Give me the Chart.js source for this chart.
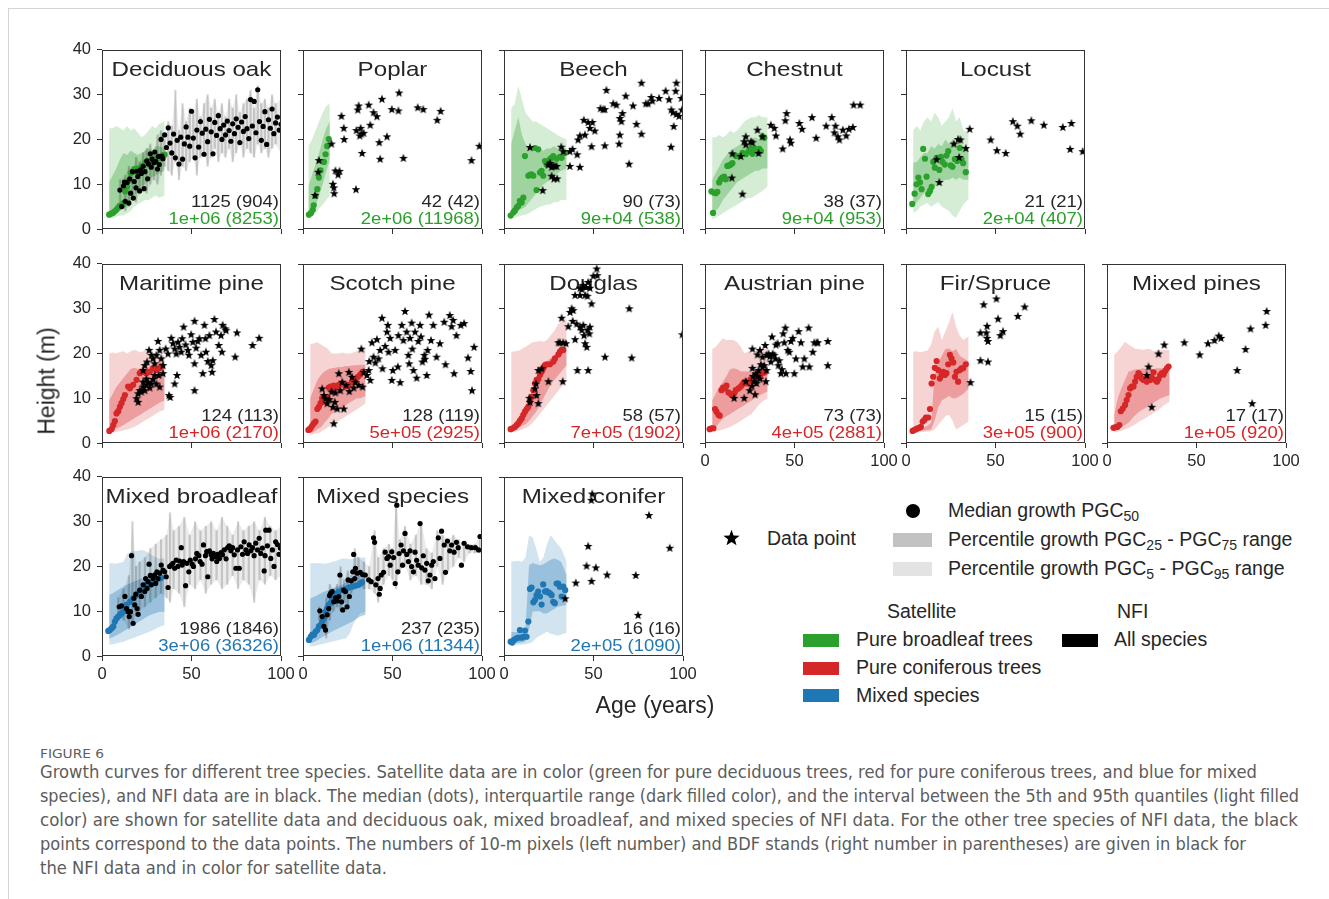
<!DOCTYPE html>
<html>
<head>
<meta charset="utf-8">
<script src="https://cdn.jsdelivr.net/npm/chart.js@4.4.1/dist/chart.umd.min.js"></script>
<style>
  body { margin:0; width:1329px; height:899px; position:relative; overflow:hidden; background:#fff;
         font-family:"Liberation Sans", Arial, sans-serif; color:#262626; }
  canvas.panel { position:absolute; }
  .frame-top { position:absolute; left:8px; top:8px; width:1321px; height:1px; background:#d4d4d4; }
  .frame-left { position:absolute; left:8px; top:8px; width:1px; height:891px; background:#d4d4d4; }
  .axis-title { position:absolute; font-size:23px; white-space:nowrap; color:#262626; }
  .lg { position:absolute; font-size:19.5px; white-space:nowrap; color:#262626; line-height:1; }
  .lg sub { font-size:14px; vertical-align:-4px; line-height:0; }
  .sw { position:absolute; }
  .cap { position:absolute; left:40px; white-space:nowrap; color:#5c5c5c; font-family:"Liberation Sans Narrow","DejaVu Sans Condensed","Noto Sans",sans-serif;
         font-size:17px; transform-origin:0 50%; line-height:1; }
  .fig { position:absolute; left:40px; top:746px; font-size:13px; color:#5c5c5c; font-family:"Liberation Sans Narrow","DejaVu Sans Condensed","Noto Sans",sans-serif;
         transform-origin:0 50%; white-space:nowrap; }
</style>
</head>
<body>
<div class="frame-top"></div>
<div class="frame-left"></div>
<div id="charts"></div>

<div class="axis-title" style="left:47px; top:381px; transform:translate(-50%,-50%) rotate(-90deg);">Height (m)</div>
<div class="axis-title" style="left:655px; top:705px; transform:translate(-50%,-50%);">Age (years)</div>

<!-- legend -->
<canvas id="legStar" width="20" height="20" style="position:absolute; left:722px; top:528px;"></canvas>
<div class="lg" style="left:767px; top:529px;">Data point</div>
<div class="sw" style="left:906px; top:504px; width:14px; height:14px; border-radius:50%; background:#000;"></div>
<div class="lg" style="left:948px; top:501px;">Median growth PGC<sub>50</sub></div>
<div class="sw" style="left:893px; top:533px; width:39px; height:14px; background:#c2c2c2;"></div>
<div class="lg" style="left:948px; top:530px;">Percentile growth PGC<sub>25</sub> - PGC<sub>75</sub> range</div>
<div class="sw" style="left:893px; top:562px; width:39px; height:14px; background:#e3e3e3;"></div>
<div class="lg" style="left:948px; top:559px;">Percentile growth PGC<sub>5</sub> - PGC<sub>95</sub> range</div>
<div class="lg" style="left:887px; top:602px;">Satellite</div>
<div class="lg" style="left:1117px; top:602px;">NFI</div>
<div class="sw" style="left:803px; top:634px; width:36px; height:13px; background:#2ca02c;"></div>
<div class="lg" style="left:856px; top:630px;">Pure broadleaf trees</div>
<div class="sw" style="left:803px; top:662px; width:36px; height:13px; background:#d62728;"></div>
<div class="lg" style="left:856px; top:658px;">Pure coniferous trees</div>
<div class="sw" style="left:803px; top:689px; width:36px; height:13px; background:#1f77b4;"></div>
<div class="lg" style="left:856px; top:686px;">Mixed species</div>
<div class="sw" style="left:1062px; top:634px; width:36px; height:13px; background:#000;"></div>
<div class="lg" style="left:1114px; top:630px;">All species</div>

<!-- caption -->
<div class="fig" id="figLab">FIGURE 6</div>
<div class="cap" style="top:764px;">Growth curves for different tree species. Satellite data are in color (green for pure deciduous trees, red for pure coniferous trees, and blue for mixed</div>
<div class="cap" style="top:788px;">species), and NFI data are in black. The median (dots), interquartile range (dark filled color), and the interval between the 5th and 95th quantiles (light filled</div>
<div class="cap" style="top:812px;">color) are shown for satellite data and deciduous oak, mixed broadleaf, and mixed species of NFI data. For the other tree species of NFI data, the black</div>
<div class="cap" style="top:836px;">points correspond to the data points. The numbers of 10-m pixels (left number) and BDF stands (right number in parentheses) are given in black for</div>
<div class="cap" style="top:860px;">the NFI data and in color for satellite data.</div>

<script>
// ---------------- data ----------------
const bandAges = [4, 6, 8, 10, 12, 14, 16, 18, 20, 22, 24, 26, 28, 30, 32, 35];
const poplarBandAges = [3, 5, 7, 9, 11, 13, 15];
const xTicks = [0, 50, 100];
const yTicks = [0, 10, 20, 30, 40];

// Deciduous oak
const oakP95 = [22.5, 22.5, 23, 22.5, 22, 23, 22, 22.5, 21.5, 20.5, 21, 22, 23, 22.5, 23.5, 24];
const oakP75 = [10.5, 12, 13.5, 15.5, 17, 16.5, 17.5, 17, 16.5, 17, 17.5, 18, 17.5, 18.5, 18.5, 18];
const oakP25 = [3, 3.2, 3.5, 4, 4.5, 5, 6, 7.5, 8.5, 9.5, 10, 11, 11.5, 12, 12.5, 13];
const oakP5 = [2.5, 2.5, 2.7, 3, 3, 3.5, 4, 5, 5.5, 6, 6.5, 6.5, 7, 7.5, 7, 7.5];
const oakMed = [[4,3.2],[5,3.4],[6,3.6],[7,3.9],[8,4.3],[9,4.8],[10,5.2],[11,5.3],[12,5.8],[13,8.4],[14,9.5],[15,10.8],[16,12.5],[17,12.8],[18,13.4],[19,12.8],[20,13.5],[21,13.4],[22,14],[23,14.2],[24,14.8],[25,14.6],[26,15],[27,15.3],[28,15.5],[29,15.8],[30,15.4],[31,15.7],[32,16],[33,16.2],[34,16.5],[35,16.6]];
const oakNfi = [[10,8.7],[11,5],[12,9.6],[12.5,10.5],[13,6.2],[14,10.4],[15,5.8],[15.5,11.2],[16,8],[17,12.8],[17.5,6.9],[18,10.6],[19,9.2],[19.5,12.9],[20,11.7],[21,8.5],[21.5,13.2],[22,12.4],[23,14],[23.5,9],[24,12.8],[25,15.2],[25.5,11.2],[26,14.5],[27,16.8],[27.5,13.8],[28,15.6],[29,14.8],[29.5,17.2],[30,15.1],[31,13.4],[31.5,16.2],[32,14.4],[33,20],[33.5,16.3],[34,15.7],[35,21],[36,18.2],[37,22.6],[38,19.2],[39,17],[40,21.2],[41,15.9],[42,19.8],[43,14.5],[44,20.5],[45,15.6],[46,19],[47,22.8],[48,20.5],[49,18.5],[50,26.3],[51,20.3],[52,15.9],[53,22.1],[54,18.3],[55,24],[56,21.4],[57,16.7],[58,22.3],[59,19.5],[60,24.5],[61,21.7],[62,16.8],[63,23.8],[64,20.9],[65,25.3],[66,22.4],[67,20],[68,23.2],[69,21],[70,24.1],[71,22],[72,19.6],[73,23.5],[74,21.3],[75,24.6],[76,22.7],[77,19.3],[78,23.9],[79,21.8],[80,25.1],[81,22.4],[82,20.2],[83,28.9],[84,23],[85,28.5],[86,21.5],[87,31.1],[88,24],[89,19.8],[90,22.9],[91,26.2],[92,18.9],[93,24.4],[94,22.5],[95,26.8],[96,21.3],[97,23.7],[98,25],[99,22.1],[100,23.4]];
const oakNfiAge = [10,13,15,17,19,21,23,25,27,29,31,33,35,37,39,41,43,45,47,49,51,53,55,57,59,61,63,65,67,69,71,73,75,77,79,81,83,85,87,89,91,93,95,97,100];
const oakNfiHi = [11,12,14,13,16,15,17,18,19,17,21,22,20,24,23,31,22,28,24,27,26,29,25,28,30,27,29,26,28,25,29,27,30,26,28,29,31,27,32,28,29,27,30,28,29];
const oakNfiLo = [6,4,5,7,6,8,9,8,10,11,10,12,14,13,12,15,11,14,13,15,16,12,16,17,14,16,18,15,17,16,18,15,17,19,16,18,17,16,19,17,18,16,18,19,17];

// Poplar
const poplarP95 = [18.5, 20, 22, 24, 26, 27.5, 28];
const poplarP75 = [9.5, 12, 14.5, 17, 20, 22.5, 24];
const poplarP25 = [3, 3.5, 5, 7.5, 10, 13, 15.5];
const poplarP5 = [2.6, 3, 3.5, 4.5, 5.5, 6.5, 7.5];
const poplarMed = [[3.3,3.2],[4.5,3.6],[5.5,4.3],[6,5.3],[7,7.4],[8,8.9],[8.9,11.5],[9.8,13.1],[11.7,15],[12.6,16.7],[13.5,18.5],[14.4,20.1]];
const poplarNfi = [[6.7,7.6],[8.5,12.8],[8.9,15.4],[15.9,19.1],[16.7,10.1],[17.2,9.3],[17.4,8],[18.1,13.1],[19.6,12.2],[20.4,13],[21.5,25.3],[22.8,22.6],[23,20.1],[29.6,8.9],[29.8,22.1],[30.6,26.7],[31.1,27.6],[31.7,20.9],[32.2,22.6],[32.6,21.3],[33,17],[33.9,21.5],[36.7,27.8],[37.6,23.3],[39.4,26.1],[41.3,25.2],[42.6,19.4],[43.1,15.7],[44.1,29.1],[46.9,20.7],[49.6,26.8],[53.3,26.5],[53.7,30.5],[56.1,15.9],[64.1,27.2],[67.2,26.8],[75,24.4],[76.9,26.4],[94.1,15.4],[98.5,18.6]];

// Beech
const beechP95 = [27, 28, 32, 29, 26, 25, 24, 24, 23.5, 23, 22.5, 22, 21.5, 21, 20.5, 20];
const beechP75 = [19, 22, 25, 21, 19, 18, 17.5, 18, 18, 17.5, 18, 18, 18.5, 18, 18, 18];
const beechP25 = [3, 3.5, 4, 4.5, 5, 6, 7, 8, 9, 10, 10.5, 11, 12, 12.5, 13, 13.5];
const beechP5 = [2.5, 2.5, 2.8, 3, 3.2, 3.5, 4, 4.5, 5, 5.2, 5.5, 5.5, 6, 6, 6.5, 6.5];
const beechMed = [[3.7,3],[5.2,3.7],[6.1,4.1],[7.1,4.8],[8,5.2],[8.9,6.3],[9.9,5.9],[10.8,7],[11.7,16.3],[13.6,11.9],[14.5,12.1],[15.4,12.2],[16.4,11.9],[17.3,18.1],[18.2,8.7],[19.1,17.8],[20.1,12.6],[21,13],[21.9,11.9],[22.9,15.2],[23.8,14.4],[24.7,14.8],[25.7,15.6],[26.6,15.9],[27.5,16.3],[29.4,15.7],[31.2,16.1],[32.2,15.9],[34,17]];
const beechNfi = [[14.5,18.3],[21.6,8.7],[24.7,14.4],[25.7,14.8],[26.6,13.9],[27.5,14.2],[28.4,14.1],[29.4,14.1],[26.6,11.9],[27.9,11.3],[29.7,11.3],[32,18.4],[33.1,17.4],[36.8,14.1],[36.8,17.4],[38.3,17.9],[40.9,16.7],[41.4,20],[42.4,20.9],[42.4,13.9],[44.6,24.4],[45.2,21.1],[47,23.9],[48,22.6],[49.4,23.9],[48.9,18.5],[50.7,22],[53.9,27],[55.4,26.8],[56.3,26.8],[56.3,18.7],[57.2,31.1],[61,28.1],[62.8,27.8],[64.7,24.8],[65.6,24.1],[66.2,25.9],[64.7,21.1],[64.3,19.1],[68,29.8],[69.9,14.6],[72.1,27.6],[74,23.5],[76.8,21.3],[76.8,32.7],[79.2,28.1],[80.5,28.1],[82.3,29.5],[82.9,28.7],[86.6,29.3],[90.3,30.9],[92.2,29],[93.3,18.4],[93.5,26.7],[94.4,26.1],[94.8,23],[95.9,30.9],[96.3,32.7],[96.3,25.7],[97.8,25.3],[99.1,29.3],[99.4,26.7]];

// Chestnut
const chestnutP95 = [20.5, 20.5, 21, 20.5, 21, 22, 21.5, 22, 23, 24, 24.5, 25, 25, 25.5, 25, 25];
const chestnutP75 = [11, 12.5, 14, 15.5, 16.5, 17.5, 18, 18.5, 19, 19.5, 20, 20, 20.5, 20, 20.5, 20.5];
const chestnutP25 = [3, 4, 5, 6.5, 7.5, 8.5, 9.5, 10.5, 11, 11.5, 12, 12.5, 13, 13, 13.5, 13.5];
const chestnutP5 = [2.2, 2.5, 3, 3.5, 4, 4.5, 5, 5.5, 6, 6.5, 7, 7, 7.5, 8, 8.5, 9.5];
const chestnutMed = [[3.6,8.4],[4.5,3.6],[5,8.1],[6,8],[6.9,8.3],[7.9,10.4],[8.8,11.1],[9.7,11.5],[10.7,11.7],[11.6,11.1],[12.5,14.1],[13.5,14.2],[14.4,14.4],[15.3,14.7],[17.2,16.3],[19.1,16.3],[21,17],[22.8,16.7],[24.3,17.4],[25.6,17.9],[26.5,16.8],[27.5,18.1],[28.4,17.4],[30.3,17.9],[31.2,17.4],[32.1,20.7],[33.1,20.4]];
const chestnutNfi = [[15.3,16.9],[15,11.5],[20.9,7.9],[20,16.3],[21.9,19.6],[22.8,20.7],[22.8,18.9],[25.6,19.6],[26.5,19.4],[29.3,22.2],[29.9,17],[32.1,20.7],[36.8,23.3],[38.7,22.6],[39.6,20.9],[43.4,18],[44.9,24.3],[45.6,25.9],[47.5,20],[48,19.3],[52.7,23.7],[54.2,22.4],[59.8,25],[62.1,20.4],[67.7,23.1],[70.8,25],[72.9,23.1],[72.3,21.6],[74.2,20.7],[75.1,20],[77,22.2],[78.9,20.9],[80.4,22.4],[82.6,22.8],[83,27.8],[86.7,27.8]];

// Locust
const locustP95 = [22, 23, 22, 24, 25, 24, 26, 25, 23, 24, 25, 27, 24, 25, 22, 21.5];
const locustP75 = [14.8, 15, 16, 17, 17, 18.5, 18, 19, 18.5, 20, 19, 20, 19, 19.5, 18.5, 18];
const locustP25 = [5.2, 6, 7, 8, 8.5, 9, 9.5, 10, 10.5, 11, 11, 11.5, 11, 11.5, 11, 11];
const locustP5 = [3.7, 4, 5, 5.5, 5.8, 5, 5.5, 6, 5, 4.5, 4, 3, 2.5, 4, 5.5, 6.7];
const locustMed = [[3.5,5.6],[4.8,7.9],[5.9,10],[6.9,11.5],[7.8,10.4],[8.7,8.9],[9.6,17.9],[10.6,15.7],[11.5,11.7],[12.4,7.8],[13.4,8.5],[14.3,9.4],[15.2,15],[16.1,13.7],[17.1,15.9],[18.6,13.2],[19.5,16.1],[20.4,15],[21.7,14.4],[22.6,16.4],[23.6,17.4],[25,14.2],[26,13.9],[27.3,15.6],[28.6,15.2],[30.1,18.1],[31,15.6],[31.9,14.7],[33.4,12.7]];
const locustNfi = [[17.1,15.6],[18.6,10.5],[26.7,19.1],[29.1,20.1],[30.4,20],[29.7,16.1],[33.4,18.1],[35.6,22.4],[47.3,20],[50.8,17.6],[55.7,17],[59.7,24.1],[62.2,23.1],[63.8,21.3],[70,24.3],[77,23.3],[87.6,22.8],[92.4,23.7],[91.7,17.9],[98.7,17.4]];

// Maritime pine
const maritimeP95 = [20, 20.2, 20, 20.3, 20.5, 20, 20.5, 20.8, 20.5, 20.2, 20.8, 20.5, 20.3, 20, 20, 19.5];
const maritimeP75 = [9.5, 11, 12.5, 13.5, 14.5, 15.5, 16.5, 16.8, 16.5, 16.8, 17, 17, 17.5, 18, 18, 18];
const maritimeP25 = [2.5, 2.8, 3.2, 3.6, 4, 4.5, 5, 5.5, 6, 6.5, 7, 7.5, 8, 8.5, 9, 9.5];
const maritimeP5 = [2.2, 2.3, 2.5, 2.6, 2.8, 3, 3.3, 3.6, 4, 4.5, 5, 5.5, 6, 6.5, 7, 7.5];
const maritimeMed = [[4.1,2.7],[5.4,3.1],[6.3,4],[7.2,4.9],[8.1,6.6],[9.1,7.1],[10,8.1],[10.9,8.9],[11.9,9.8],[12.8,10.7],[14.6,12.6],[15.6,12.2],[17.4,13],[19.3,14.1],[21.1,15.6],[23,15.9],[24.8,15.6],[26.7,15.9],[28.5,16.7],[30.4,16.3],[32.2,16.7],[33.1,17.1]];
const maritimeNfi = [[19.3,10],[20.2,11.1],[22,11.5],[23,12.6],[23.9,11.8],[24.8,13],[25.7,13.7],[24.8,14.4],[26.7,12.4],[27.6,13.3],[28.5,14.3],[29.4,15.2],[23,16.3],[23.9,17.4],[25.2,18.2],[26.3,20.8],[27.6,19.7],[28.5,18.9],[29.4,17.8],[30.4,19.7],[31.3,22.8],[32.2,20.8],[33.1,18.9],[34.1,15.6],[34.1,17.4],[35.6,21.1],[36.9,20],[37.4,10.7],[38.1,10.3],[38.7,23.5],[39.6,22.3],[40.6,13.3],[40.6,21.1],[41.5,20],[41.9,15.2],[42.4,22.6],[43.3,21.5],[44.3,20.4],[44.8,23.4],[45.6,26],[46.7,22],[48,20.8],[48.5,19.7],[49.8,24.3],[50.7,22.6],[51.7,27.3],[51.7,17.8],[52.6,21.3],[51.7,11.8],[53.5,22.8],[54.4,23.4],[55.4,19.7],[56.3,15.6],[57.2,26.4],[57.8,23.4],[58.1,20.4],[59.1,18.3],[60,24.1],[61,17.4],[61.5,15.9],[61.9,18.5],[62.8,27.7],[63.7,24.9],[65.2,21.9],[66.5,24.1],[67,20.4],[67.4,26.4],[68.9,25.6],[69.3,25.2],[74.4,19.3],[75.4,24.7],[84.1,21.9],[87.8,23.5],[20.2,9.2],[21.1,11.8],[23,13.7],[30.4,13.3],[32.2,12.6],[31.7,15.2]];

// Scotch pine
const scotchP95 = [22, 22.3, 22.5, 22, 21.5, 21, 20, 20, 20, 20.2, 20, 20, 20.2, 20.5, 21, 21];
const scotchP75 = [10, 12, 14, 15.2, 16, 16.5, 16.7, 16.8, 17, 17, 17.2, 17.2, 17.4, 17.4, 17.5, 17.5];
const scotchP25 = [2.2, 2.5, 3, 3.5, 4.5, 5.5, 6.5, 7, 7.5, 8, 8.5, 9, 9.5, 10, 10, 10.5];
const scotchP5 = [1.8, 2, 2.2, 2.5, 3, 3.5, 4, 4.5, 5, 5.5, 6, 6.5, 7, 7.5, 8, 8.9];
const scotchMed = [[3,2.9],[3.7,3.1],[4.4,3.4],[5.2,3.9],[6.1,4.4],[7,4.8],[8,7.6],[8.9,8.1],[9.8,8.9],[10.7,10],[11.7,9.2],[12.6,10],[13.5,10.3],[14.4,12.4],[15.4,12.6],[16.3,12.2],[17.2,12.8],[18.1,12.4],[19.1,12.6],[20,13],[21.9,13.3],[23.7,12.6],[25.6,13],[27.4,13.6],[29.3,14.3],[30.7,14.8],[32,15.3],[33.3,15.9]];
const scotchNfi = [[10.7,12.2],[11.7,10.7],[12.6,10],[13.5,8.9],[14.8,9.8],[15.9,11.5],[16.7,8.1],[17.2,4.4],[17.8,9.2],[18.1,11.3],[19.1,7.7],[20,15.6],[20.9,11.8],[21.9,13.7],[22.8,7.7],[24.1,13],[25.6,15.9],[25.9,11.6],[27.4,14.8],[28.3,12.4],[29.3,13.7],[31.1,13],[32.6,21.1],[33.3,12.6],[33.9,15.9],[35.7,15.2],[36.7,16.3],[37.6,14.1],[37,18.3],[38.5,22.5],[39.4,19.3],[40.4,18],[41.3,23.2],[42.2,18.9],[43.1,20.8],[44.1,28],[44.4,16.7],[45.9,21.7],[46.9,24.9],[47.4,26.4],[47.8,20.4],[48.7,23.5],[49.6,14.1],[50.2,16.3],[51.5,20.8],[53,17.1],[53.3,24.1],[54.3,13.6],[55.2,26.4],[56.1,23],[57,29.5],[57.9,24.9],[58.9,19.7],[59.3,17.8],[59.8,23.5],[60.7,26.9],[61.1,21.1],[61.7,16.3],[62.6,24.9],[63.5,14.6],[64.4,22.8],[65.4,26.4],[65.9,23.8],[66.7,18.2],[67.8,19.7],[68.1,18.8],[69.1,15.2],[69.6,20.8],[70.4,28.7],[71.5,23],[72.8,26.4],[74.6,19.3],[76.5,22.3],[78.9,27.1],[79.6,17.6],[82,28.6],[83,26.1],[83.9,27.5],[84.4,15.6],[85.7,24.1],[88.1,26.4],[90,26.8],[92.2,19.1],[93.7,16.1],[94.4,11.8],[95.6,21.5]];

// Douglas
const douglasP95 = [20.4, 20.5, 20.6, 21, 21.5, 22, 22.5, 22.6, 22.8, 22.6, 23, 24, 25, 26.4, 27.2, 27.8];
const douglasP75 = [3.5, 4.5, 5.5, 7, 8.5, 10, 12, 13.5, 15, 17, 18.2, 19, 19.5, 20.5, 21, 21.5];
const douglasP25 = [2.6, 3, 3.3, 3.8, 4.2, 5, 6, 7, 8.5, 10, 11.5, 13, 14, 15, 16, 17.4];
const douglasP5 = [2.4, 2.5, 2.7, 3, 3.3, 3.8, 4.5, 5.5, 6.5, 7.5, 8.5, 9.5, 10.5, 11.5, 12.5, 13.7];
const douglasMed = [[3.7,3.1],[4.8,3.3],[6.1,3.6],[7.1,4],[8,4.4],[8.9,5],[9.9,5.5],[10.8,6.3],[11.7,7],[12.7,7.6],[13.6,8.1],[14.5,9.2],[15.4,10.3],[16.4,11.8],[17.3,13.3],[18.2,14.1],[19.2,14.3],[20.1,15.2],[21,15.9],[22,16.7],[22.9,17.4],[23.8,17.6],[25.7,17.6],[27.6,18.2],[28.5,18.9],[30.4,19.8],[31.3,20.4],[32.2,20.8],[33.1,20.8]];
const douglasNfi = [[14.2,10.1],[14.5,9.2],[17.3,12.2],[18.2,10.7],[19.2,8.9],[17.9,13.3],[19.2,16.3],[21,16.7],[24.8,13.8],[30.4,22.5],[32.2,28],[32.8,13.8],[31.3,22.5],[33.1,22.5],[34.6,22.3],[35.9,26.1],[36.9,29.3],[37.8,30.1],[38.4,27.3],[39.7,23.2],[40.6,26.7],[41,16.3],[42.5,26],[43.4,25.3],[44.3,26.4],[44.7,24.1],[45.3,22.3],[46.2,21.5],[46.6,25.3],[47,16.3],[48,26],[48.9,31.2],[47.7,24.5],[42.5,33.1],[43.4,34.4],[44.3,35.3],[45.8,34.9],[46.6,32.9],[47,36],[48,34.7],[49.9,37.4],[51.8,39],[52.1,37.5],[42.5,34.7],[45.3,33.1],[56.4,19.3],[70,30.1],[71.3,19.1],[99.6,24.3],[39.7,33.1],[38.7,29.7]];

// Austrian pine
const austrianP95 = [21, 21.5, 22.5, 23.4, 23, 23, 23, 22.5, 21.5, 20, 20.5, 20, 20.5, 21, 21, 21];
const austrianP75 = [9.5, 11, 12.5, 13.7, 15, 16.5, 16.7, 16.5, 16, 16, 16, 15.9, 15.9, 16, 16, 15.9];
const austrianP25 = [3, 3.5, 4.5, 5.5, 6, 6.5, 7, 7.5, 8, 8.5, 9, 9.5, 10, 10.5, 11, 11.5];
const austrianP5 = [2.5, 2.6, 2.8, 3, 3.3, 3.6, 4, 4.4, 5, 5.5, 6, 6.5, 7.5, 8.5, 9.2, 10];
const austrianMed = [[2.6,3.1],[3.6,3.3],[4.7,3.3],[5.6,7.6],[6.4,7],[7.5,6.3],[8.2,6.1],[9.2,11.8],[10.1,12.4],[11.2,12.2],[12,12.8],[13.1,11.3],[14.4,10.9],[15.3,10.6],[16.3,11.1],[17.2,11.8],[18.7,12.2],[20,12.6],[20.9,13.1],[21.9,13.6],[22.8,13.7],[23.7,13.3],[24.7,13.8],[25.6,14.3],[26.5,14.4],[28,14.8],[29.3,14.6],[30.7,15],[32.1,15.6],[33.5,15.8]];
const austrianNfi = [[16.3,10.1],[21.9,10.1],[22.8,13.8],[25,11.8],[26.2,12.8],[26.5,16.8],[26.9,15],[27.5,13.8],[28,10.9],[28.4,15.6],[28.8,13.4],[29.3,15],[29.9,16.3],[30.7,14.4],[31.2,17.6],[32.1,17.1],[33.1,17.4],[34,13.8],[34.4,16.3],[26.5,21.1],[29.3,19.8],[30.7,20.8],[32.1,19.3],[33.6,21.9],[34.4,19.7],[35.5,20],[36.3,19.4],[36.8,18.2],[37.4,23.8],[37.8,20],[38.7,19.7],[39.3,18.9],[39.6,22],[40.6,22.3],[41,17.4],[41.5,18.5],[42.4,15.6],[43,16.5],[43.7,24.5],[44.3,22.5],[44.9,25.8],[45.2,15.6],[46.2,20.8],[47.1,20.4],[48,22.8],[49,23.5],[49.9,15.6],[50.8,18.9],[52.3,25],[53.6,22.5],[54.6,17.1],[55.5,18.9],[57.9,25.8],[58.3,17.1],[60.2,20.4],[61.1,22.5],[62.4,22.5],[63,22.5],[68.6,22.8],[68.6,17.4]];

// Fir / Spruce
const firP95 = [20.4, 20.5, 20.3, 20.5, 20.6, 22, 25, 26, 23, 25, 27, 29.3, 26, 24, 23, 23.8];
const firP75 = [2.9, 3, 3.2, 3.5, 3.8, 4.5, 15, 18, 19.5, 21, 21.1, 20.5, 21, 19.5, 19, 18.2];
const firP25 = [2.5, 2.6, 2.7, 2.8, 2.9, 3, 5, 8, 9.5, 10, 10.5, 10, 10, 10.5, 11, 12.2];
const firP5 = [2.3, 2.4, 2.4, 2.5, 2.5, 2.6, 3, 4, 5, 6, 6.3, 5, 3, 3.5, 4, 4.8];
const firMed = [[3.7,2.7],[4.6,2.9],[5.6,3.1],[6.5,3.3],[7.4,3.4],[8.3,3.6],[9.3,4.8],[10.2,5.1],[11.1,5.7],[12.4,5.7],[13.4,7.6],[14.3,13.3],[15.2,14.8],[16.1,16.8],[17.1,18.3],[18,16.3],[18.9,14.4],[19.9,15.2],[20.8,15.9],[21.7,15.2],[22.6,15.6],[23.6,17.6],[24.5,19.7],[25.4,18.9],[26.4,18],[27.3,14.8],[28.2,15.9],[29.1,13.7],[30.1,16.3],[31,16.7],[31.9,16.7],[33.4,17.6]];
const firNfi = [[36,13.6],[41.6,18.5],[41.6,24.7],[43.4,31],[44.9,24.7],[45.3,26.2],[45.3,23.5],[45.8,22.8],[45.8,18.2],[50.5,32.3],[51.4,27.8],[52.7,24.1],[54.2,25],[62.5,28.4],[66.3,30.5]];

// Mixed pines
const mixpineP95 = [19.7, 20.5, 21.5, 22.6, 22, 21.5, 21, 21, 20.8, 21, 21, 20.5, 20.8, 20.8, 20.8, 20.8];
const mixpineP75 = [6.3, 10, 12.2, 14, 15.9, 16.2, 16.5, 16.5, 16.7, 16.5, 16.7, 16.5, 16.7, 16.7, 16.7, 16.8];
const mixpineP25 = [3, 3.2, 3.5, 4, 4.5, 5.5, 6.3, 7, 7.5, 8, 8.5, 9, 9.5, 10, 10.3, 10.7];
const mixpineP5 = [2.4, 2.5, 2.7, 3, 3.3, 3.8, 4.2, 4.8, 5.2, 5.7, 6.2, 6.7, 7.2, 7.8, 8.5, 9.2];
const mixpineMed = [[3.6,3.4],[4.5,3.5],[5.8,3.6],[6.9,4],[7.7,7.1],[8.8,7.7],[10.1,8.5],[11,9.6],[12,10.7],[12.9,12.2],[13.8,12.6],[14.8,12.6],[15.7,13.7],[16.6,14.8],[17.6,15.6],[18.5,15.2],[19.4,14.4],[20.4,14.1],[21.3,14.3],[22.2,13.7],[23.2,14.4],[24.1,14.1],[25,14.6],[26,15.8],[26.9,14.1],[27.9,13.7],[28.8,14.3],[29.7,15.2],[30.7,15.6],[31.6,15.3],[32.5,16.1],[33.5,16.7],[34.4,17.1]];
const mixpineNfi = [[22.2,15.2],[23.2,17.1],[25,8.1],[28.8,20],[32,22],[43.2,22.5],[51.8,19.8],[56.4,22.3],[60,23],[62.4,24],[63.7,23.5],[72.7,16.3],[77.4,21],[80.2,25.6],[81.1,8.9],[88.6,26.4],[89.2,29.5]];

// Mixed broadleaf
const broadP95 = [20.7, 20.7, 20.6, 20.8, 21, 22.9, 23.2, 23.4, 23.5, 23.7, 23.5, 23, 22.5, 22, 21.8, 21.8];
const broadP75 = [13.6, 14, 14.5, 15, 15.5, 15.9, 16.3, 16.7, 17, 17.3, 17.5, 17.7, 17.9, 18, 18.1, 18.1];
const broadP25 = [3.9, 4.2, 4.6, 5, 5.5, 6, 6.5, 7, 7.5, 8, 8.5, 9, 9.3, 9.6, 9.8, 9.9];
const broadP5 = [2.5, 2.6, 2.8, 3, 3.2, 3.5, 3.8, 4.1, 4.4, 4.7, 5, 5.3, 5.7, 6.1, 6.5, 6.9];
const broadMed = [[3.5,5.6],[4.4,5.8],[5.4,6.2],[6.3,6.6],[7.2,7.7],[8.1,8.4],[9.1,8.8],[10,9.2],[10.9,9.5],[11.9,9.9],[12.8,10.6],[13.7,11.4],[15.6,12.1],[17.4,12.9],[19.3,13.6],[21.1,14.4],[23,15.1],[24.8,15.9],[26.7,16.2],[28.5,16.6],[30.4,17],[32.2,17.3],[33.1,17.5]];
const broadNfi = [[9.6,11],[10.9,11.2],[12.8,13.3],[13.7,10.6],[14.6,9.9],[15.2,8.8],[15.9,9.9],[16.5,22.4],[17.4,7.3],[17.8,12.9],[18.3,11.4],[18.9,13.8],[19.6,10.6],[20.2,9.3],[21.1,14.7],[22,13.3],[23,15.9],[23.9,14.4],[24.4,17.3],[25.2,15.1],[25.7,16.6],[26.3,20.5],[27,18],[27.6,15.9],[28.5,17.3],[29.4,18.1],[30,16.2],[30.7,18.8],[31.3,17.3],[32.2,18.5],[33.1,20.3],[34.1,19.2],[35,18.8],[35.9,17.7],[36.9,15.3],[37.8,20],[38.7,20.3],[39.6,20.7],[40.6,19.6],[41.5,21.4],[42.4,20],[43.3,21.2],[44.3,24.2],[44.8,20.3],[45.6,21.1],[46.7,15.7],[47.4,20.7],[48.5,18.8],[49.3,21.4],[50.4,20.5],[51.1,20],[52.2,21.7],[53,22.9],[54.1,22.4],[54.8,21.1],[55.9,20.5],[56.7,24.8],[57.8,22.4],[58.5,23.3],[59.1,17.7],[60,23.5],[60.9,22.6],[61.5,21.7],[62.2,22.9],[63.3,22.2],[64.1,21.1],[64.6,22.7],[65.6,21.8],[66.5,23.1],[67.4,22.6],[68.3,23.7],[69.3,21.7],[70.2,24.2],[71.1,24.6],[72,23.5],[73,24.2],[73.9,22.6],[74.8,19.6],[75.7,23.7],[76.7,19.6],[77.6,24.4],[78.5,22.7],[79.4,25.5],[80.4,23.7],[81.3,22.9],[82.2,24.8],[83.1,23.5],[84.1,24.2],[85,22.4],[85.9,25.2],[86.9,23.7],[87.8,26.3],[88.7,22.9],[89.6,24.1],[90.6,19],[91.1,22.4],[91.5,28.1],[92.4,24.6],[93.3,28.1],[94.3,21.8],[95.2,23.7],[96.1,20],[97,25.5],[98,24.9],[98.9,22.7],[99.6,24.1]];
const broadNfiAge = [9,12,15,17,19,21,24,27,30,33,36,38,40,43,46,49,52,55,58,61,64,67,70,73,76,79,82,85,88,91,94,97,100];
const broadNfiHi = [13,15,18,30,20,21,22,24,25,26,27,32,28,29,31,27,30,28,29,30,28,31,29,27,30,28,29,30,28,31,29,28,29];
const broadNfiLo = [9,8,6,7,9,10,11,12,13,14,13,12,15,14,11,16,15,17,14,16,17,15,16,18,15,17,16,12,17,16,18,17,18];

// Mixed species
const mixspP95 = [20.7, 20.7, 20.8, 20.7, 20.6, 20.8, 21, 21.2, 21.5, 21.8, 21.8, 21.6, 21.8, 22, 22, 22];
const mixspP75 = [12.9, 13.2, 13.6, 14, 14.4, 14.7, 15, 15.3, 15.7, 16, 16.4, 16.8, 17.3, 17.8, 18.3, 18.8];
const mixspP25 = [2.8, 3.1, 3.5, 4, 4.5, 5, 5.4, 5.8, 6.2, 6.6, 7, 7.4, 7.8, 8.3, 8.8, 9.2];
const mixspP5 = [2.1, 2.2, 2.4, 2.6, 2.8, 3, 3.2, 3.4, 3.6, 3.8, 3.9, 5, 7, 8.5, 9.5, 9.9];
const mixspMed = [[3.3,3.6],[4.3,4.3],[5.2,4.8],[6.1,4.7],[7,5.4],[8,5.8],[8.9,6.6],[9.8,6.9],[10.7,7.7],[11.7,8.4],[12.6,9.9],[13.5,10.6],[14.4,11.4],[15.4,11.8],[16.3,12.5],[17.2,13],[18.1,13.6],[19.1,14],[20,14.4],[21.9,14.7],[23.7,15],[25.6,15.3],[27.4,15.5],[29.3,15.7],[31.1,15.9],[32,16.2],[33,16.5]];
const mixspNfi = [[9.4,10.1],[10.7,8.8],[11.7,6.6],[12.6,5.8],[13.5,9.2],[14.4,10.6],[14.8,13.5],[15.4,14],[16.3,14.4],[17.2,12.1],[18.1,13],[19.1,12.3],[20,13.3],[20.6,18.1],[21.5,12.1],[22.2,10.3],[22.8,14.7],[23.7,14.4],[24.6,11],[25.2,17],[25.9,13.3],[27,16.8],[27.8,18.8],[28.3,22.7],[28.9,17.3],[29.3,19.6],[30.2,18.5],[32,18.7],[33.3,18.2],[34.8,18.1],[36.7,17],[38.1,16.6],[39.4,26.4],[40,25.4],[40.7,15.9],[41.9,17.3],[42.6,13.8],[43.1,15.1],[43.7,18.1],[45,18.7],[45.9,23.2],[46.9,21.8],[47.8,22.2],[48.7,20.3],[49.6,23.3],[50.6,22],[51.5,16.2],[52.4,33.7],[53,18.8],[53.7,22.9],[54.8,24.8],[55.6,20.3],[56.1,23.5],[57,27.4],[58,22.7],[58.9,21.1],[59.8,23.5],[60.7,20],[61.7,18.8],[62.6,23.2],[63.5,21.4],[64.4,20.3],[65.4,29.6],[66.3,19.7],[67.2,22.4],[68.1,19.2],[69.1,20.7],[70,16.8],[70.9,18.1],[71.9,20.3],[72.8,21.1],[73.7,17.3],[75.6,26.4],[76.5,21.8],[77.4,27.9],[78.9,24.8],[79.6,18.7],[80.7,25.7],[82,23.5],[83,24.8],[84.4,23.2],[85.7,25.4],[86.7,24.2],[88.5,20.3],[90,25.2],[91.9,24.4],[94.1,24.2],[96.3,24.2],[98.1,23.7],[98.9,26.7]];
const mixspNfiAge = [9,11,13,15,17,19,21,23,25,27,29,31,34,37,40,42,45,48,50,52,54,57,60,63,66,69,72,75,78,81,84,87,90,93,96,99];
const mixspNfiHi = [11,10,13,16,15,16,20,17,19,18,24,22,21,20,28,22,24,25,24,35,26,29,25,27,30,24,23,28,27,26,27,26,25,25,25,27];
const mixspNfiLo = [8,6,4,8,10,11,10,12,11,14,15,16,15,15,14,12,16,18,17,15,19,20,17,18,16,16,15,20,16,19,20,22,21,23,23,23];

// Mixed conifer
const mixconP95 = [21.1, 21.2, 21.3, 21, 22, 27, 26.5, 24, 21, 22, 25, 27, 26, 25, 24, 21];
const mixconP75 = [5.4, 5.3, 5.5, 5.8, 6.2, 20.3, 20.8, 20.5, 20.3, 20.5, 21, 21.5, 21.8, 21.5, 21, 18];
const mixconP25 = [2.8, 2.8, 2.9, 3, 3.2, 6, 9.9, 10, 10, 9.5, 9.5, 10, 10.5, 11, 11.2, 11.4];
const mixconP5 = [2.4, 2.4, 2.5, 2.5, 2.6, 2.8, 3.2, 4, 4.5, 5, 5.4, 5, 4.8, 4.5, 4.8, 5.2];
const mixconMed = [[3.7,3.2],[4.6,3],[5.6,3.6],[6.7,3.9],[8,4.1],[8.9,5.8],[9.9,4.1],[10.8,4.3],[11.7,5.7],[12.6,4.3],[13.6,7.7],[14.5,15],[15.4,15.3],[16.4,12],[17.3,12.5],[18.2,13.6],[19.1,14.4],[20.1,13.3],[21,11.5],[21.9,16],[22.9,14.4],[23.8,14.5],[24.7,14.2],[25.7,14],[26.6,13.6],[27.5,12.1],[28.4,11.8],[29.4,16.2],[30.3,16.2],[31.2,15.5],[32.2,13.3],[33.1,15.5],[34.2,14.7]];
const mixconNfi = [[34.2,12.9],[40.1,16.4],[46.1,20.2],[47,24.6],[48.9,16.8],[51.3,19.8],[57.6,18.2],[73.6,18.1],[74.9,9.2],[81,31.5],[92.6,24.2],[49.3,36.3],[48.8,34.9]];

const titles = ['Deciduous oak','Poplar','Beech','Chestnut','Locust','Maritime pine','Scotch pine','Douglas','Austrian pine','Fir/Spruce','Mixed pines','Mixed broadleaf','Mixed species','Mixed conifer'];
const nfiCounts = ['1125 (904)','42 (42)','90 (73)','38 (37)','21 (21)','124 (113)','128 (119)','58 (57)','73 (73)','15 (15)','17 (17)','1986 (1846)','237 (235)','16 (16)'];
const satCounts = ['1e+06 (8253)','2e+06 (11968)','9e+04 (538)','9e+04 (953)','2e+04 (407)','1e+06 (2170)','5e+05 (2925)','7e+05 (1902)','4e+05 (2881)','3e+05 (900)','1e+05 (920)','3e+06 (36326)','1e+06 (11344)','2e+05 (1090)'];

// ---------------- layout / styles ----------------
const GREEN = '#2ca02c', RED = '#d62728', BLUE = '#1f77b4';
function rgba(hex, a) {
  const n = parseInt(hex.slice(1), 16);
  return `rgba(${n >> 16},${(n >> 8) & 255},${n & 255},${a})`;
}
const colX = [102, 303, 504, 705, 906, 1107];
const rowY = [50, 264, 477];
const SIZE = 179, PAD_L = 44, PAD_T = 12, PAD_R = 22, PAD_B = 30;
const FONT = '"Liberation Sans", Arial, sans-serif';

const panels = [
  { r:0, c:0, color:GREEN, ages:bandAges, p:[oakP5, oakP95, oakP25, oakP75], med:oakMed, nfi:oakNfi, dots:true, band:[oakNfiAge, oakNfiLo, oakNfiHi] },
  { r:0, c:1, color:GREEN, ages:poplarBandAges, p:[poplarP5, poplarP95, poplarP25, poplarP75], med:poplarMed, nfi:poplarNfi },
  { r:0, c:2, color:GREEN, ages:bandAges, p:[beechP5, beechP95, beechP25, beechP75], med:beechMed, nfi:beechNfi },
  { r:0, c:3, color:GREEN, ages:bandAges, p:[chestnutP5, chestnutP95, chestnutP25, chestnutP75], med:chestnutMed, nfi:chestnutNfi },
  { r:0, c:4, color:GREEN, ages:bandAges, p:[locustP5, locustP95, locustP25, locustP75], med:locustMed, nfi:locustNfi },
  { r:1, c:0, color:RED, ages:bandAges, p:[maritimeP5, maritimeP95, maritimeP25, maritimeP75], med:maritimeMed, nfi:maritimeNfi },
  { r:1, c:1, color:RED, ages:bandAges, p:[scotchP5, scotchP95, scotchP25, scotchP75], med:scotchMed, nfi:scotchNfi },
  { r:1, c:2, color:RED, ages:bandAges, p:[douglasP5, douglasP95, douglasP25, douglasP75], med:douglasMed, nfi:douglasNfi },
  { r:1, c:3, color:RED, ages:bandAges, p:[austrianP5, austrianP95, austrianP25, austrianP75], med:austrianMed, nfi:austrianNfi, xlab:true },
  { r:1, c:4, color:RED, ages:bandAges, p:[firP5, firP95, firP25, firP75], med:firMed, nfi:firNfi, xlab:true },
  { r:1, c:5, color:RED, ages:bandAges, p:[mixpineP5, mixpineP95, mixpineP25, mixpineP75], med:mixpineMed, nfi:mixpineNfi, xlab:true },
  { r:2, c:0, color:BLUE, ages:bandAges, p:[broadP5, broadP95, broadP25, broadP75], med:broadMed, nfi:broadNfi, dots:true, band:[broadNfiAge, broadNfiLo, broadNfiHi], xlab:true },
  { r:2, c:1, color:BLUE, ages:bandAges, p:[mixspP5, mixspP95, mixspP25, mixspP75], med:mixspMed, nfi:mixspNfi, dots:true, band:[mixspNfiAge, mixspNfiLo, mixspNfiHi], xlab:true },
  { r:2, c:2, color:BLUE, ages:bandAges, p:[mixconP5, mixconP95, mixconP25, mixconP75], med:mixconMed, nfi:mixconNfi, xlab:true }
];

function makeStar(r) {
  const c = document.createElement('canvas');
  const s = Math.ceil(r * 2 + 2);
  c.width = s; c.height = s;
  const g = c.getContext('2d');
  g.fillStyle = '#000';
  g.beginPath();
  for (let i = 0; i < 10; i++) {
    const rr = i % 2 ? r * 0.42 : r;
    const a = -Math.PI / 2 + i * Math.PI / 5;
    g.lineTo(s / 2 + rr * Math.cos(a), s / 2 + rr * Math.sin(a) + r * 0.1);
  }
  g.closePath();
  g.fill();
  return c;
}
const starImg = makeStar(4.6);
document.getElementById('legStar').getContext('2d').drawImage(makeStar(8.5), 0, 0);

function pts(xs, ys) { return xs.map((x, i) => ({ x: x, y: ys[i] })); }
function pairs(list) { return list.map(d => ({ x: d[0], y: d[1] })); }

function stretchText(ctx, text, x, y, font, align, color, sx) {
  ctx.save();
  ctx.font = font;
  ctx.fillStyle = color;
  ctx.textBaseline = 'alphabetic';
  const w = ctx.measureText(text).width * sx;
  let left = x;
  if (align === 'center') left = x - w / 2;
  if (align === 'right') left = x - w;
  ctx.translate(left, y);
  ctx.scale(sx, 1);
  ctx.textAlign = 'left';
  ctx.fillText(text, 0, 0);
  ctx.restore();
}

function buildDatasets(pn) {
  const light = rgba(pn.color, 0.2), dark = rgba(pn.color, 0.32);
  const bandLine = { type: 'line', pointRadius: 0, borderWidth: 0, showLine: true, order: 6 };
  const ds = [
    Object.assign({}, bandLine, { data: pts(pn.ages, pn.p[0]), fill: false }),
    Object.assign({}, bandLine, { data: pts(pn.ages, pn.p[1]), fill: '-1', backgroundColor: light }),
    Object.assign({}, bandLine, { data: pts(pn.ages, pn.p[2]), fill: false, order: 5 }),
    Object.assign({}, bandLine, { data: pts(pn.ages, pn.p[3]), fill: '-1', backgroundColor: dark, order: 5 })
  ];
  if (pn.band) {
    // faint envelope plus one thin spike per sampled age, like the NFI spread lines
    ds.push(Object.assign({}, bandLine, { data: pts(pn.band[0], pn.band[1]), fill: false, order: 4 }));
    ds.push(Object.assign({}, bandLine, { data: pts(pn.band[0], pn.band[2]), fill: '-1', backgroundColor: 'rgba(0,0,0,0.08)', order: 4 }));
    ds.push({
      type: 'bar', order: 3, barThickness: 1.6, borderWidth: 0,
      backgroundColor: 'rgba(0,0,0,0.17)',
      data: pn.band[0].map((a, i) => ({ x: a, y: [pn.band[1][i], pn.band[2][i]] }))
    });
  }
  ds.push({
    data: pairs(pn.med), showLine: false, order: 2,
    pointStyle: 'circle', pointRadius: 3.1, pointBorderWidth: 0, pointBackgroundColor: pn.color
  });
  if (pn.dots) {
    ds.push({
      data: pairs(pn.nfi), showLine: false, order: 1,
      pointStyle: 'circle', pointRadius: 2.6, pointBorderWidth: 0, pointBackgroundColor: '#000'
    });
  } else {
    ds.push({ data: pairs(pn.nfi), showLine: false, order: 1, pointStyle: starImg, pointRadius: 4 });
  }
  return ds;
}

function makeChart(pn, idx, w, h) {
  const cv = document.createElement('canvas');
  cv.className = 'panel';
  cv.width = w; cv.height = h;
  cv.style.width = w + 'px'; cv.style.height = h + 'px';
  document.getElementById('charts').appendChild(cv);

  const decor = {
    id: 'decor' + idx,
    beforeDatasetsDraw(chart) {
      const a = chart.chartArea, ctx = chart.ctx;
      stretchText(ctx, titles[idx], (a.left + a.right) / 2, a.top + 26, '21px ' + FONT, 'center', '#262626', 1.15);
      stretchText(ctx, nfiCounts[idx], a.right - 2, a.bottom - 22, '16.5px ' + FONT, 'right', '#262626', 1.12);
      stretchText(ctx, satCounts[idx], a.right - 2, a.bottom - 5, '16.5px ' + FONT, 'right', pn.color, 1.12);
    },
    afterDraw(chart) {
      const a = chart.chartArea, ctx = chart.ctx;
      ctx.save();
      ctx.strokeStyle = '#333';
      ctx.lineWidth = 1;
      ctx.strokeRect(Math.round(a.left) + 0.5, Math.round(a.top) + 0.5, Math.round(a.right - a.left) - 1, Math.round(a.bottom - a.top) - 1);
      ctx.restore();
    }
  };

  const chart = new Chart(cv, {
    type: 'line',
    data: { datasets: buildDatasets(pn) },
    options: {
      responsive: false,
      maintainAspectRatio: false,
      animation: false,
      devicePixelRatio: 1,
      events: [],
      layout: { padding: { top: PAD_T, right: PAD_R, left: 0, bottom: 0 } },
      elements: { line: { tension: 0 } },
      plugins: { legend: { display: false }, tooltip: { enabled: false } },
      scales: {
        x: {
          type: 'linear', min: 0, max: 100, offset: false,
          afterFit: s => { s.height = PAD_B; },
          afterBuildTicks: s => { s.ticks = xTicks.map(v => ({ value: v })); },
          ticks: { display: !!pn.xlab, autoSkip: false, maxRotation: 0, padding: 4,
                   color: '#262626', font: { size: 16.5, family: FONT } },
          grid: { offset: false, drawOnChartArea: false, drawTicks: true, tickLength: 5, color: '#333' },
          border: { display: false }
        },
        y: {
          type: 'linear', min: 0, max: 40,
          afterFit: s => { s.width = PAD_L; },
          afterBuildTicks: s => { s.ticks = yTicks.map(v => ({ value: v })); },
          ticks: { display: pn.c === 0, padding: 6,
                   color: '#262626', font: { size: 16.5, family: FONT } },
          grid: { drawOnChartArea: false, drawTicks: true, tickLength: 5, color: '#333' },
          border: { display: false }
        }
      }
    },
    plugins: [decor]
  });
  return { chart: chart, canvas: cv };
}

panels.forEach((pn, idx) => {
  const w0 = PAD_L + SIZE + PAD_R, h0 = PAD_T + SIZE + PAD_B;
  // first pass measures how much the layout shrinks the plot box; second pass compensates
  const probe = makeChart(pn, idx, w0, h0);
  const a0 = probe.chart.chartArea;
  const w1 = w0 + (SIZE - Math.round(a0.right - a0.left));
  const h1 = h0 + (SIZE - Math.round(a0.bottom - a0.top));
  probe.chart.destroy();
  probe.canvas.remove();

  const fin = makeChart(pn, idx, w1, h1);
  const a = fin.chart.chartArea;
  fin.canvas.style.left = (colX[pn.c] - Math.round(a.left)) + 'px';
  fin.canvas.style.top = (rowY[pn.r] - Math.round(a.top)) + 'px';
});

// caption: squeeze each line to the width it has in the figure
(function () {
  const targets = [1217, 1259, 1258, 1206, 347];
  document.querySelectorAll('.cap').forEach((el, i) => {
    const nat = el.getBoundingClientRect().width;
    el.style.transform = 'scaleX(' + (targets[i] / nat) + ')';
  });
  const fig = document.getElementById('figLab');
  fig.style.transform = 'scaleX(' + (64 / fig.getBoundingClientRect().width) + ')';
})();
</script>
</body>
</html>
